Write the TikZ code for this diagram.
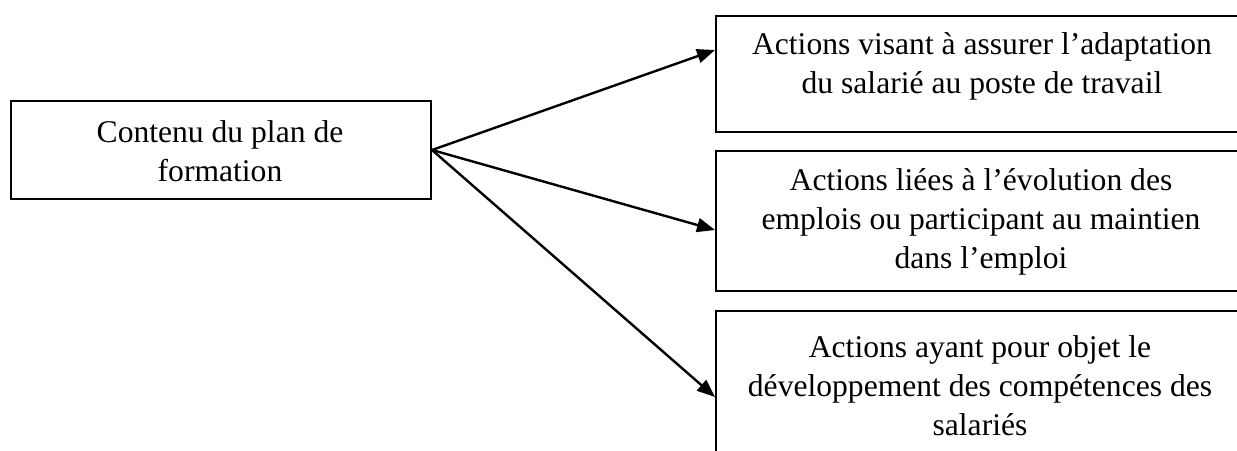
\documentclass[tikz,border=0pt]{standalone}
\usepackage{fontspec}
\setmainfont{Liberation Serif}
\usetikzlibrary{arrows.meta}
\begin{document}
\begin{tikzpicture}[x=0.5pt,y=-0.5pt,
  box/.style={draw, line width=1pt, rectangle, inner sep=0pt},
  lbl/.style={align=center, font=\fontsize{15.8}{19.5}\selectfont, inner sep=0pt},
  conn/.style={line width=1.2pt, -{Triangle[length=9pt,width=7pt]}}]
\useasboundingbox (0,0) rectangle (1237,450);
\begin{scope}
\clip (0,0) rectangle (1237,450);
% left box
\node[box, minimum width=210pt, minimum height=49pt, anchor=north west] (src) at (10,100) {};
\node[lbl] (srct) at (220,151) {Contenu du plan de\\formation};
% right boxes
\node[box, minimum width=280pt, minimum height=58pt, anchor=north west] (b1) at (715,15) {};
\node[lbl] (b1t) at (982,66.5) {Actions visant à assurer l’adaptation\\du salarié au poste de travail};
\node[box, minimum width=280pt, minimum height=70pt, anchor=north west] (b2) at (715,150) {};
\node[lbl] (b2t) at (981,222) {Actions liées à l’évolution des\\emplois ou participant au maintien\\dans l’emploi};
\node[box, minimum width=280pt, minimum height=75pt, anchor=north west] (b3) at (715,310) {};
\node[lbl] (b3t) at (980,386) {Actions ayant pour objet le\\développement des compétences des\\salariés};
\end{scope}
\coordinate (o) at (src.east);
\draw[conn] (o) -- (b1.west |- 0,50);
\draw[conn] (o) -- (b2.west |- 0,230);
\draw[conn] (o) -- (b3.west |- 0,397);
\end{tikzpicture}
\end{document}
